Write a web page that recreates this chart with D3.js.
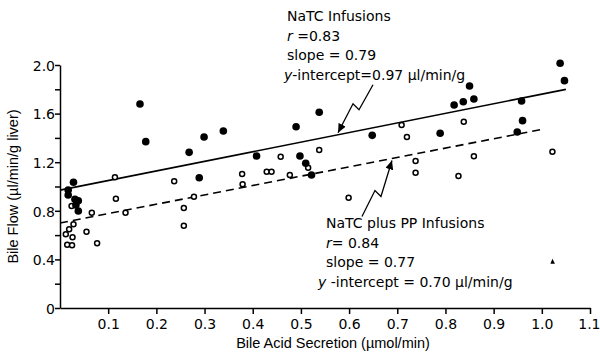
<!DOCTYPE html>
<html>
<head>
<meta charset="utf-8">
<script src="https://cdn.jsdelivr.net/npm/d3@7"></script>
<style>
  body { margin: 0; background: #fff; }
  svg { display: block; font-family: "DejaVu Sans", sans-serif; }
  .axis path, .axis line { stroke: #000; stroke-width: 1.5; }
  .axis text { font-size: 14px; fill: #000; font-family: "DejaVu Sans", sans-serif; }
  .title { font-family: "Liberation Sans", Arial, sans-serif; font-size: 14.5px; }
</style>
</head>
<body>
<div id="chart"></div>
<script>
// NaTC infusions (filled circles): [bile acid secretion, bile flow]
const natcPoints = [
  [0.166, 1.679], [0.178, 1.369], [0.268, 1.281], [0.289, 1.072],
  [0.028, 1.035], [0.017, 0.971], [0.017, 0.930], [0.031, 0.895],
  [0.038, 0.883], [0.033, 0.848], [0.038, 0.798],
  [0.538, 1.611], [0.490, 1.492], [0.339, 1.457], [0.299, 1.407],
  [0.408, 1.251], [0.498, 1.251], [0.510, 1.191], [0.522, 1.095],
  [0.648, 1.421], [1.038, 2.014], [1.047, 1.871], [0.850, 1.827],
  [0.818, 1.671], [0.837, 1.698], [0.859, 1.720], [0.958, 1.704],
  [0.960, 1.542], [0.949, 1.449], [0.789, 1.438]
];

// NaTC plus PP infusions (open circles)
const ppPoints = [
  [0.114, 1.076], [0.237, 1.043], [0.116, 0.900], [0.024, 0.840],
  [0.066, 0.784], [0.136, 0.784], [0.278, 0.916], [0.257, 0.823],
  [0.257, 0.677], [0.028, 0.689], [0.019, 0.648], [0.055, 0.628],
  [0.012, 0.607], [0.026, 0.582], [0.077, 0.533], [0.015, 0.521],
  [0.025, 0.516], [0.709, 1.506], [0.720, 1.407], [0.538, 1.300],
  [0.458, 1.245], [0.378, 1.103], [0.429, 1.122], [0.439, 1.122],
  [0.477, 1.095], [0.515, 1.155], [0.379, 1.018], [0.599, 0.908],
  [0.838, 1.533], [0.738, 1.210], [0.738, 1.114], [0.859, 1.249],
  [0.827, 1.086], [1.022, 1.286]
];

// stray mark near the x axis
const strayPoints = [[1.022, 0.381]];

// regression lines: intercept, slope, x range
const natcFit = { intercept: 0.97, slope: 0.79, from: 0, to: 1.05 };
const ppFit = { intercept: 0.70, slope: 0.77, from: 0, to: 1.0 };

const xTicks = [0.1, 0.2, 0.3, 0.4, 0.5, 0.6, 0.7, 0.8, 0.9, 1.0, 1.1];
const yTicks = [0, 0.2, 0.4, 0.6, 0.8, 1.0, 1.2, 1.4, 1.6, 1.8, 2.0];

const width = 600;
const height = 355;
const margin = { top: 65, right: 10, bottom: 47, left: 60 };

const svg = d3.select('#chart')
  .append('svg')
  .attr('width', width)
  .attr('height', height);

const x = d3.scaleLinear().domain([0, 1.1]).range([margin.left, width - margin.right]);
const y = d3.scaleLinear().domain([0, 2]).range([height - margin.bottom, margin.top]);

// axes
svg.append('g')
  .attr('class', 'axis')
  .attr('transform', `translate(0,${y(0)})`)
  .call(d3.axisBottom(x).tickValues(xTicks).tickSize(6).tickSizeOuter(0)
    .tickFormat(d => d.toFixed(1)))
  .call(g => g.selectAll('text').attr('dy', '0.85em'))
  .call(g => g.selectAll('.tick:last-of-type text').attr('text-anchor', 'end').attr('x', 10));

svg.append('g')
  .attr('class', 'axis')
  .attr('transform', `translate(${x(0)},0)`)
  .call(d3.axisLeft(y).tickValues(yTicks).tickSize(5).tickSizeOuter(0)
    .tickFormat(d => {
      const k = Math.round(d * 10);
      if (k % 4 !== 0) return '';
      return k === 0 ? '0' : d.toFixed(1);
    }))
  .call(g => g.selectAll('text').attr('x', -5).attr('dy', '0.38em'));

// axis titles
svg.append('text')
  .attr('class', 'title')
  .attr('x', (x(0) + x(1.1)) / 2 + 8)
  .attr('y', 348)
  .attr('text-anchor', 'middle')
  .text('Bile Acid Secretion (µmol/min)');

svg.append('text')
  .attr('class', 'title')
  .attr('transform', `translate(18,${y(1)}) rotate(-90)`)
  .attr('text-anchor', 'middle')
  .text('Bile Flow (µl/min/g liver)');

// regression lines
const fitLine = f => [[f.from, f.intercept + f.slope * f.from], [f.to, f.intercept + f.slope * f.to]];
const line = d3.line().x(d => x(d[0])).y(d => y(d[1]));

svg.append('path')
  .attr('d', line(fitLine(natcFit)))
  .attr('fill', 'none')
  .attr('stroke', '#000')
  .attr('stroke-width', 1.6);

svg.append('path')
  .attr('d', line(fitLine(ppFit)))
  .attr('fill', 'none')
  .attr('stroke', '#000')
  .attr('stroke-width', 1.6)
  .attr('stroke-dasharray', '8,5');

// points
svg.selectAll('.pp')
  .data(ppPoints)
  .enter()
  .append('circle')
  .attr('class', 'pp')
  .attr('cx', d => x(d[0]))
  .attr('cy', d => y(d[1]))
  .attr('r', 2.5)
  .attr('fill', '#fff')
  .attr('stroke', '#000')
  .attr('stroke-width', 1.5);

svg.selectAll('.natc')
  .data(natcPoints)
  .enter()
  .append('circle')
  .attr('class', 'natc')
  .attr('cx', d => x(d[0]))
  .attr('cy', d => y(d[1]))
  .attr('r', 3.8)
  .attr('fill', '#000');

svg.selectAll('.stray')
  .data(strayPoints)
  .enter()
  .append('path')
  .attr('class', 'stray')
  .attr('transform', d => `translate(${x(d[0])},${y(d[1])})`)
  .attr('d', 'M-2,2L0,-3L2.5,2Z')
  .attr('fill', '#000');

// annotations
svg.append('defs').append('marker')
  .attr('id', 'head')
  .attr('viewBox', '0 -4 9 8')
  .attr('refX', 9)
  .attr('refY', 0)
  .attr('markerWidth', 9)
  .attr('markerHeight', 8)
  .attr('markerUnits', 'userSpaceOnUse')
  .attr('orient', 'auto')
  .append('path')
  .attr('d', 'M0,-4L9,0L0,4Z')
  .attr('fill', '#000');

function block(x0, y0, lines) {
  const t = svg.append('text')
    .style('font-size', '14px');
  lines.forEach((parts, i) => {
    const ln = t.append('tspan').attr('x', x0 + (parts.dx || 0)).attr('y', y0 + i * 19.5);
    parts.text.forEach(p => {
      ln.append('tspan')
        .style('font-style', p.italic ? 'italic' : 'normal')
        .text(p.s);
    });
  });
}

block(287, 21, [
  { text: [{ s: 'NaTC Infusions' }] },
  { text: [{ s: 'r', italic: true }, { s: ' =0.83' }] },
  { text: [{ s: 'slope = 0.79' }] },
  { dx: -3, text: [{ s: 'y', italic: true }, { s: '-intercept=0.97 µl/min/g' }] }
]);

block(326, 228, [
  { text: [{ s: 'NaTC plus PP Infusions' }] },
  { text: [{ s: 'r', italic: true }, { s: '= 0.84' }] },
  { text: [{ s: 'slope = 0.77' }] },
  { dx: -8, text: [{ s: 'y', italic: true }, { s: ' -intercept = 0.70 µl/min/g' }] }
]);

// zigzag arrows pointing at the fit lines
const tipA = [x(0.577), y(natcFit.intercept + natcFit.slope * 0.577) - 2];
svg.append('path')
  .attr('d', d3.line()([
    [tipA[0] + 35, tipA[1] - 48], [tipA[0] + 21, tipA[1] - 23],
    [tipA[0] + 15, tipA[1] - 29], tipA
  ]))
  .attr('fill', 'none')
  .attr('stroke', '#000')
  .attr('stroke-width', 1.3)
  .attr('marker-end', 'url(#head)');

const tipB = [x(0.689), y(ppFit.intercept + ppFit.slope * 0.689) + 2];
svg.append('path')
  .attr('d', d3.line()([
    [tipB[0] - 30, tipB[1] + 56], [tipB[0] - 17, tipB[1] + 30],
    [tipB[0] - 11, tipB[1] + 36], tipB
  ]))
  .attr('fill', 'none')
  .attr('stroke', '#000')
  .attr('stroke-width', 1.3)
  .attr('marker-end', 'url(#head)');
</script>
</body>
</html>
